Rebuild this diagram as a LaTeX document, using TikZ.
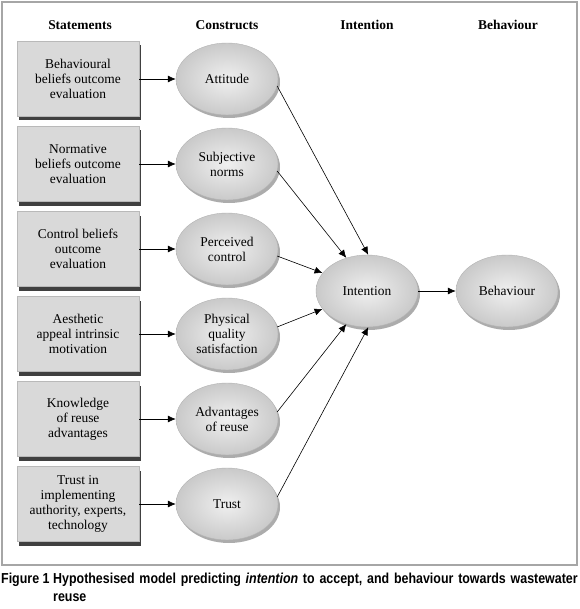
\documentclass[tikz,border=0pt]{standalone}
\usepackage{fontspec}
\setmainfont{Liberation Serif}
\newfontfamily\capfont[FakeStretch=0.86]{Liberation Sans}
\usetikzlibrary{shapes.geometric,shadows,arrows.meta}

\tikzset{
    head/.style={font=\fontsize{13.5}{15}\selectfont\bfseries},
    stmt/.style={rectangle, draw=gray!55, fill=gray!30, minimum width=122bp, minimum height=75bp,
        align=center, font=\fontsize{13.5}{15}\selectfont,
        drop shadow={shadow xshift=2bp, shadow yshift=-4bp, fill=gray!50!black, opacity=1}},
    cons/.style={ellipse, draw=gray!60, inner color=gray!12, outer color=gray!42, minimum width=102bp, minimum height=72bp,
        align=center, inner sep=0pt, font=\fontsize{13.5}{15}\selectfont,
        drop shadow={shadow xshift=2bp, shadow yshift=-3bp, fill=gray!65, opacity=1}},
    link/.style={-{Latex[length=8bp,width=7bp]}, line width=0.6pt},
    capt/.style={inner sep=0pt, font=\capfont\fontsize{14.5}{19}\selectfont\bfseries}
}

\begin{document}
\begin{tikzpicture}[x=1bp, y=-1bp]
    \useasboundingbox (0,0) rectangle (580,609);
    \draw[gray!70, line width=1.3pt] (2,2) rectangle (577,565);

    % Column heads
    \node[head] (hstat) at (80,25) {Statements};
    \node[head] (hcons) at (227,25) {Constructs};
    \node[head] (hint) at (367,25) {Intention};
    \node[head] (hbeh) at (508,25) {Behaviour};

    % Statements
    \node[stmt] (s1) at (78,79) {Behavioural\\beliefs outcome\\evaluation};
    \node[stmt] (s2) at (78,164) {Normative\\beliefs outcome\\evaluation};
    \node[stmt] (s3) at (78,249) {Control beliefs\\outcome\\evaluation};
    \node[stmt] (s4) at (78,334) {Aesthetic\\appeal intrinsic\\motivation};
    \node[stmt] (s5) at (78,419) {Knowledge\\of reuse\\advantages};
    \node[stmt] (s6) at (78,504) {Trust in\\implementing\\authority, experts,\\technology};

    % Constructs
    \node[cons] (att) at (227,79) {Attitude};
    \node[cons] (norm) at (227,164) {Subjective\\norms};
    \node[cons] (ctrl) at (227,249) {Perceived\\control};
    \node[cons] (phys) at (227,334) {Physical\\quality\\satisfaction};
    \node[cons] (adv) at (227,419) {Advantages\\of reuse};
    \node[cons] (trust) at (227,504) {Trust};

    % Intention and behaviour
    \node[cons] (int) at (367,291) {Intention};
    \node[cons] (beh) at (507,291) {Behaviour};

    % Arrows
    \draw[link] (s1.east) -- (att.west);
    \draw[link] (s2.east) -- (norm.west);
    \draw[link] (s3.east) -- (ctrl.west);
    \draw[link] (s4.east) -- (phys.west);
    \draw[link] (s5.east) -- (adv.west);
    \draw[link] (s6.east) -- (trust.west);

    \draw[link] (att.-8) -- (int.88);
    \draw[link] (norm.-8) -- (int.122);
    \draw[link] (ctrl.-8) -- (int.158);
    \draw[link] (phys.8) -- (int.202);
    \draw[link] (adv.8) -- (int.238);
    \draw[link] (trust.8) -- (int.272);
    \draw[link] (int.east) -- (beh.west);

    % Caption
    \node[capt, anchor=base west] (fig) at (1,583) {Figure 1};
    \node[capt, anchor=base west, text width=526bp, align=left] (cap) at (53,583)
        {Hypothesised model predicting \textit{intention} to accept, and behaviour towards wastewater reuse};
\end{tikzpicture}
\end{document}
